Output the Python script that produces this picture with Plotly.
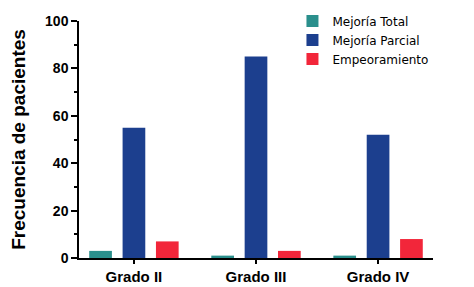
import plotly.graph_objects as go

categories = ["Grado II", "Grado III", "Grado IV"]
mejoria_total = [3, 1, 1]
mejoria_parcial = [55, 85, 52]
empeoramiento = [7, 3, 8]
series_names = ["Mejoría Total", "Mejoría Parcial", "Empeoramiento"]
colors = ["#2a8f8c", "#1c3f8e", "#f2263a"]

fig = go.Figure()
for name, vals, col in zip(series_names, [mejoria_total, mejoria_parcial, empeoramiento], colors):
    fig.add_trace(go.Bar(x=categories, y=vals, name=name, marker=dict(color=col, line=dict(width=0))))

# page body has an 8px margin; figure sized to fit the 474x287 window
fig.update_layout(
    width=466, height=279,
    margin=dict(l=71, r=41, t=13, b=29, autoexpand=False),
    paper_bgcolor="white", plot_bgcolor="white",
    barmode="group", bargap=0.18, bargroupgap=0.32,
    font=dict(family="Liberation Sans, Arial, sans-serif", color="black"),
    legend=dict(x=0.603, y=1.061, xanchor="left", yanchor="top",
                font=dict(size=12, family="DejaVu Sans, sans-serif"),
                bgcolor="rgba(0,0,0,0)", tracegroupgap=0, itemsizing="constant"),
    showlegend=True,
)
fig.update_xaxes(
    range=[-0.45, 2.45], showline=True, linecolor="black", linewidth=1.5,
    ticks="outside", ticklen=4, tickcolor="black", tickwidth=1.5,
    tickfont=dict(size=15, family="Liberation Sans, Arial, sans-serif", weight="bold"),
    showgrid=False, zeroline=False, automargin=False,
)
fig.update_yaxes(
    range=[0, 100], tickvals=[0, 20, 40, 60, 80, 100],
    showline=True, linecolor="black", linewidth=1.5,
    ticks="outside", ticklen=6, tickcolor="black", tickwidth=1.5,
    minor=dict(ticks="outside", ticklen=3, tickcolor="black", tickwidth=1.5, dtick=10, showgrid=False),
    tickfont=dict(size=14, family="Liberation Sans, Arial, sans-serif", weight="bold"),
    title=dict(text="Frecuencia de pacientes", standoff=16,
               font=dict(size=19, family="Liberation Sans, Arial, sans-serif", weight="bold")),
    showgrid=False, zeroline=False, automargin=False,
)
fig.write_html("out.html")
